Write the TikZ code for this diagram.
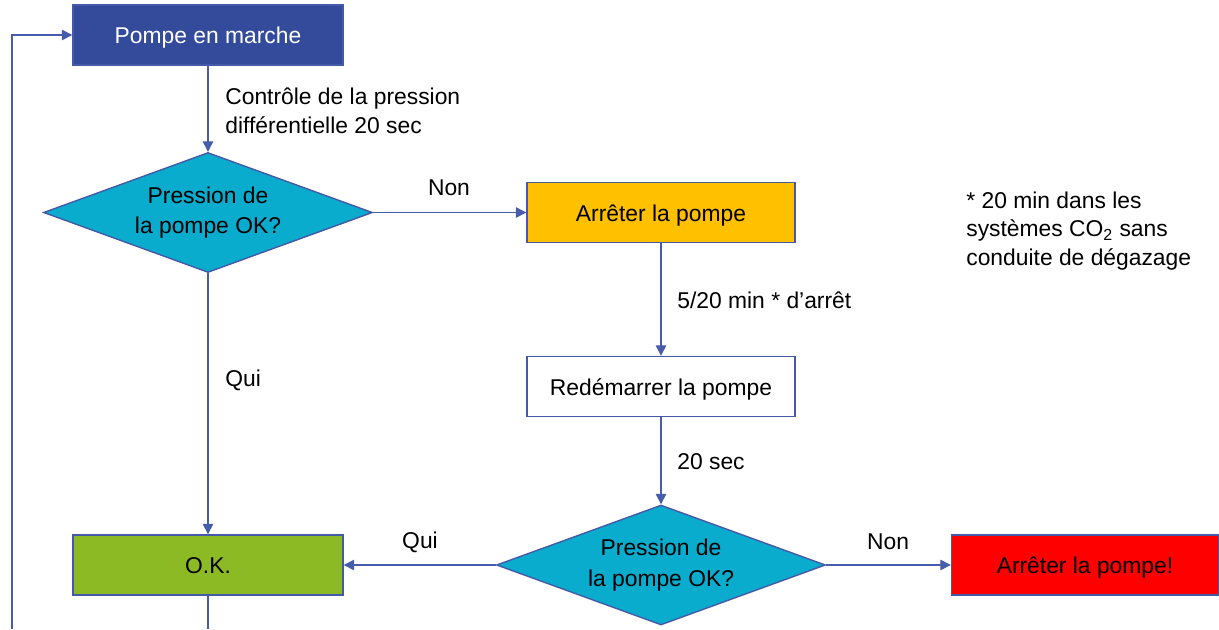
\documentclass[tikz,border=0pt]{standalone}
\usepackage{fontspec}
\setmainfont{Liberation Sans}
\usetikzlibrary{shapes.geometric,arrows.meta}
\definecolor{pompeblue}{RGB}{52,75,155}
\definecolor{dcyan}{RGB}{10,172,206}
\definecolor{orangebox}{RGB}{255,192,0}
\definecolor{greenbox}{RGB}{140,186,36}
\definecolor{redbox}{RGB}{255,0,0}
\definecolor{bordercol}{RGB}{68,90,168}
\definecolor{linecol}{RGB}{72,92,172}
\tikzset{
  box/.style={rectangle, draw=bordercol, line width=0.8pt, minimum width=5.36cm, minimum height=1.2cm, inner sep=0pt, font=\fontsize{13}{16}\selectfont, text=black, text height=1.9ex, text depth=0ex},
  dia/.style={diamond, shape aspect=2.74, draw=bordercol, line width=0.8pt, fill=dcyan, minimum width=6.58cm, minimum height=2.4cm, inner sep=0pt, align=center, font=\fontsize{13}{17.5}\selectfont},
  conn/.style={draw=linecol, line width=0.7pt, -{Triangle[length=6pt,width=6pt]}},
  plain/.style={draw=linecol, line width=0.7pt},
  lbl/.style={font=\fontsize{13}{16.2}\selectfont, inner sep=0pt, align=left}
}
\begin{document}
\begin{tikzpicture}[x=0.02cm, y=-0.02cm]
\useasboundingbox (0,0) rectangle (1219,629);
% nodes
\node[box, fill=pompeblue, text=white, minimum width=5.4cm] (pompe) at (208,35) {Pompe en marche};
\node[dia] (d1) at (208,212.5) {Pression de\\la pompe OK?};
\node[box, fill=orangebox] (arret) at (661,212.5) {Arrêter la pompe};
\node[box, fill=white] (redem) at (661,386.5) {Redémarrer la pompe};
\node[dia] (d2) at (661,565) {Pression de\\la pompe OK?};
\node[box, fill=greenbox, minimum width=5.4cm] (ok) at (208,565) {O.K.};
\node[box, fill=redbox, minimum width=5.34cm] (stop) at (1085,565) {Arrêter la pompe!};
\coordinate (okdown) at (208,629);
\coordinate (leftbot) at (12,629);
\coordinate (lefttop) at (12,35);
% labels
\node[lbl, anchor=west] (l1) at (225,111) {Contrôle de la pression\\différentielle 20 sec};
\node[lbl] (l2) at (449,188) {Non};
\node[lbl, anchor=west] (l3) at (677,300) {5/20 min * d’arrêt};
\node[lbl, anchor=west] (l4) at (677,462) {20 sec};
\node[lbl, anchor=west] (l5) at (225,380) {Qui};
\node[lbl] (l6) at (420,542) {Qui};
\node[lbl] (l7) at (888,542) {Non};
\node[lbl, anchor=west] (note) at (966,231) {* 20 min dans les\\systèmes CO\textsubscript{2} sans\\conduite de dégazage};
% connectors
\draw[conn] (pompe) -- (d1);
\draw[conn] (d1) -- (arret);
\draw[conn] (arret) -- (redem);
\draw[conn] (redem) -- (d2);
\draw[conn] (d2) -- (stop);
\draw[conn] (d2) -- (ok);
\draw[conn] (d1) -- (ok);
\draw[plain] (ok) -- (okdown);
\draw[conn] (leftbot) -- (lefttop) -- (pompe);
\end{tikzpicture}
\end{document}
